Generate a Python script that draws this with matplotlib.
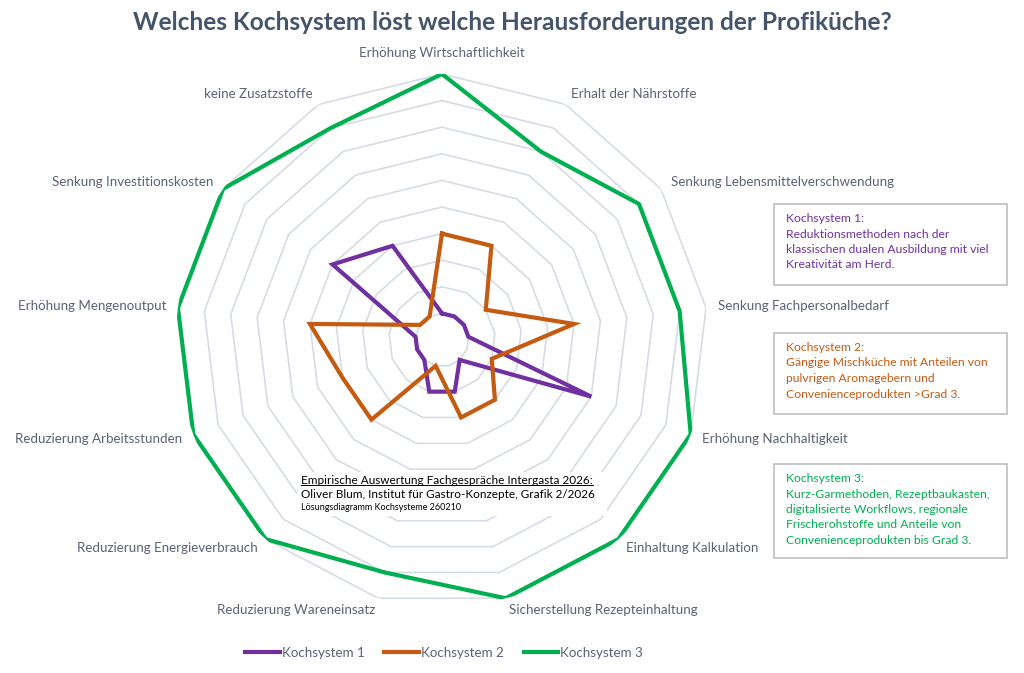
import numpy as np
import matplotlib
matplotlib.use("Agg")
import matplotlib.pyplot as plt
from matplotlib.patches import Rectangle
from matplotlib.lines import Line2D

plt.rcParams['font.family'] = ['Lato', 'DejaVu Sans']

# data
categories = ["Erhöhung Wirtschaftlichkeit", "Erhalt der Nährstoffe",
              "Senkung Lebensmittelverschwendung", "Senkung Fachpersonalbedarf",
              "Erhöhung Nachhaltigkeit", "Einhaltung Kalkulation",
              "Sicherstellung Rezepteinhaltung", "Reduzierung Wareneinsatz",
              "Reduzierung Energieverbrauch", "Reduzierung Arbeitsstunden",
              "Erhöhung Mengenoutput", "Senkung Investitionskosten",
              "keine Zusatzstoffe"]
ks1 = [1, 1, 1, 1, 6, 1, 2, 2, 1, 1, 1, 5, 4]
ks2 = [4, 4, 2, 5, 2, 3, 3, 1, 4, 4, 5, 1, 1]
ks3 = [10, 8, 9, 9, 10, 10, 10, 9, 10, 10, 10, 10, 9]
series_names = ["Kochsystem 1", "Kochsystem 2", "Kochsystem 3"]
colors = ["#7030a0", "#c55a11", "#00b050"]

box_texts = [
    "Kochsystem 1:\nReduktionsmethoden nach der\nklassischen dualen Ausbildung mit viel\nKreativität am Herd.",
    "Kochsystem 2:\nGängige Mischküche mit Anteilen von\npulvrigen Aromagebern und\nConvenienceprodukten >Grad 3.",
    "Kochsystem 3:\nKurz-Garmethoden, Rezeptbaukasten,\ndigitalisierte Workflows, regionale\nFrischerohstoffe und Anteile von\nConvenienceprodukten bis Grad 3.",
]

W, H = 1024, 673
label_col = "#5a6275"
grid_col = "#d6dce4"

fig = plt.figure(figsize=(W / 100, H / 100), dpi=100, facecolor='white')

def fx(x):
    return x / W

def fy(y):
    return 1 - y / H

# polar axes centred at (442, 340) px, radius 266 px
cx, cy, R = 442, 340, 266
ax = fig.add_axes([fx(cx - R), fy(cy + R), 2 * R / W, 2 * R / H], projection='polar')
ax.set_theta_zero_location('N')
ax.set_theta_direction(-1)
ax.set_ylim(0, 10)
ax.grid(False)
ax.set_xticks([])
ax.set_yticks([])
ax.spines['polar'].set_visible(False)
ax.patch.set_alpha(0)

n = len(categories)
theta = np.linspace(0, 2 * np.pi, n, endpoint=False)
theta_c = np.append(theta, theta[0])

# polygon grid rings
for r in range(1, 11):
    ax.plot(theta_c, [r] * (n + 1), color=grid_col, lw=1.2, zorder=1)

for vals, c, name in zip([ks1, ks2, ks3], colors, series_names):
    ax.plot(theta_c, vals + vals[:1], color=c, lw=3, zorder=3,
            solid_joinstyle='miter', label=name)

# category labels
for t, lab in zip(theta, categories):
    s, co = np.sin(t), np.cos(t)
    if abs(s) < 0.01:
        ax.annotate(lab, (t, 10), xytext=(0, 15), textcoords='offset pixels',
                    ha='center', va='bottom', fontsize=9.6, color=label_col)
        continue
    ha = 'left' if s > 0 else 'right'
    ax.annotate(lab, (t, 10), xytext=(12 * s, 12 * co), textcoords='offset pixels',
                ha=ha, va='center', fontsize=9.6, color=label_col)

# title
fig.text(0.5, fy(23), "Welches Kochsystem löst welche Herausforderungen der Profiküche?",
         ha='center', va='center', fontsize=17.6, fontweight='bold', color="#44546a")

# source note with white background
fig.patches.append(Rectangle((fx(297), fy(516)), fx(310), 44 / H, transform=fig.transFigure,
                             facecolor='white', edgecolor='none', zorder=4))
t1 = fig.text(fx(301), fy(480), "Empirische Auswertung Fachgespräche Intergasta 2026:",
              ha='left', va='center', fontsize=8.5, color='black', zorder=5)
fig.text(fx(301), fy(495), "Oliver Blum, Institut für Gastro-Konzepte, Grafik 2/2026",
         ha='left', va='center', fontsize=8.5, color='black', zorder=5)
fig.text(fx(301), fy(508), "Lösungsdiagramm Kochsysteme 260210",
         ha='left', va='center', fontsize=6.5, color='black', zorder=5)

# boxes on the right
boxes = [(204, 285), (333, 414), (464, 558)]
for (y0, y1), txt, c in zip(boxes, box_texts, colors):
    fig.patches.append(Rectangle((fx(774), fy(y1)), (1007 - 774) / W, (y1 - y0) / H,
                                 transform=fig.transFigure, facecolor='white',
                                 edgecolor='#bfbfbf', lw=1.2))
    fig.text(fx(786), fy(y0 + 9), txt, ha='left', va='top', fontsize=8.7,
             color=c, linespacing=1.5)

# legend
handles = [Line2D([0], [0], color=c, lw=3) for c in colors]
fig.legend(handles, series_names, loc='center', bbox_to_anchor=(fx(444), fy(653)),
           ncol=3, frameon=False, fontsize=9.6, handlelength=2.6, handletextpad=0.15,
           columnspacing=1.5, labelcolor=label_col)

# underline first note line
fig.canvas.draw()
bb = t1.get_window_extent().transformed(fig.transFigure.inverted())
fig.lines.append(Line2D([bb.x0, bb.x1], [bb.y0 + 0.001, bb.y0 + 0.001], transform=fig.transFigure,
                        color='black', lw=0.7, zorder=6))

fig.savefig("out.png", dpi=100, facecolor='white')
